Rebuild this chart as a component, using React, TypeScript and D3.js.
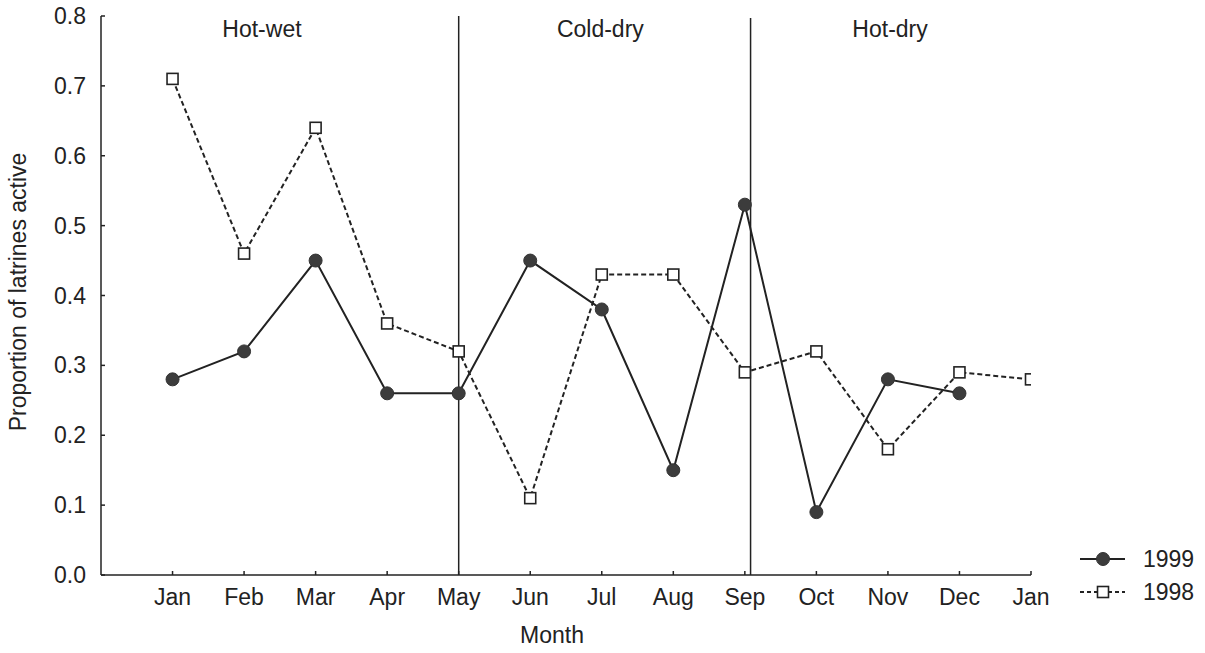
import React from "react";
import * as d3 from "d3";

const months = ["Jan", "Feb", "Mar", "Apr", "May", "Jun", "Jul", "Aug", "Sep", "Oct", "Nov", "Dec", "Jan"];
const values1999 = [0.28, 0.32, 0.45, 0.26, 0.26, 0.45, 0.38, 0.15, 0.53, 0.09, 0.28, 0.26];
const values1998 = [0.71, 0.46, 0.64, 0.36, 0.32, 0.11, 0.43, 0.43, 0.29, 0.32, 0.18, 0.29, 0.28];
const yTicks = [0, 0.1, 0.2, 0.3, 0.4, 0.5, 0.6, 0.7, 0.8];
const seasonNames = ["Hot-wet", "Cold-dry", "Hot-dry"];
const seasonLabelPos = [1.25, 5.98, 10.03];
const seasonBoundaries = [4, 8.08];

const W = 1205;
const H = 653;
const FONT = "'Liberation Sans', Arial, Helvetica, sans-serif";
const INK = "#222";
const FS = 23;

export default function App() {
  const x = d3.scaleLinear().domain([-1, 12]).range([101, 1031]);
  const y = d3.scaleLinear().domain([0, 0.8]).range([575, 16]);

  const line = d3
    .line<number>()
    .x((_, i) => x(i))
    .y((d) => y(d));

  const sq = 11;

  return (
    <svg
      width={W}
      height={H}
      style={{ position: "absolute", left: 0, top: 0, background: "#fff" }}
      fontFamily={FONT}
    >
      <defs>
        <clipPath id="plotclip">
          <rect x={0} y={0} width={1031} height={H} />
        </clipPath>
      </defs>

      {/* axes */}
      <line x1={x(-1)} x2={x(-1)} y1={y(0.8)} y2={y(0)} stroke={INK} strokeWidth={1.5} />
      <line x1={x(-1)} x2={x(12)} y1={y(0)} y2={y(0)} stroke={INK} strokeWidth={1.5} />
      {yTicks.map((t) => (
        <g key={"yt" + t}>
          <line x1={x(-1)} x2={x(-1) + 4} y1={y(t)} y2={y(t)} stroke={INK} strokeWidth={1.5} />
          <text x={86} y={y(t) + 8} fontSize={FS} textAnchor="end" fill={INK}>
            {t.toFixed(1)}
          </text>
        </g>
      ))}
      {months.map((m, i) => (
        <g key={"xt" + i}>
          <line x1={x(i)} x2={x(i)} y1={y(0)} y2={y(0) - 4} stroke={INK} strokeWidth={1.5} />
          <text x={x(i)} y={605} fontSize={FS} textAnchor="middle" fill={INK}>
            {m}
          </text>
        </g>
      ))}
      <text x={552} y={643} fontSize={FS} textAnchor="middle" fill={INK}>
        Month
      </text>
      <text
        transform={`translate(26,292) rotate(-90)`}
        fontSize={FS}
        textAnchor="middle"
        fill={INK}
      >
        Proportion of latrines active
      </text>

      {/* season boundaries */}
      {seasonBoundaries.map((b, i) => (
        <line
          key={"sb" + i}
          x1={x(b)}
          x2={x(b)}
          y1={y(0.8) + i * 2}
          y2={y(0)}
          stroke={INK}
          strokeWidth={1.5}
        />
      ))}
      {seasonNames.map((s, i) => (
        <text key={s} x={x(seasonLabelPos[i])} y={37} fontSize={FS} textAnchor="middle" fill={INK}>
          {s}
        </text>
      ))}

      {/* 1998 dashed series */}
      <g clipPath="url(#plotclip)">
        <path
          d={line(values1998) || ""}
          fill="none"
          stroke={INK}
          strokeWidth={2}
          strokeDasharray="5,3"
        />
        {values1998.map((v, i) => (
          <rect
            key={"s" + i}
            x={x(i) - sq / 2}
            y={y(v) - sq / 2}
            width={sq}
            height={sq}
            fill="#fff"
            stroke={INK}
            strokeWidth={1.6}
          />
        ))}
      </g>

      {/* 1999 solid series */}
      <path d={line(values1999) || ""} fill="none" stroke={INK} strokeWidth={2} />
      {values1999.map((v, i) => (
        <circle key={"c" + i} cx={x(i)} cy={y(v)} r={6.5} fill="#3c3c3c" stroke="#333" strokeWidth={1} />
      ))}

      {/* legend */}
      <line x1={1080} x2={1125} y1={559} y2={559} stroke={INK} strokeWidth={2} />
      <circle cx={1103} cy={559} r={6.5} fill="#3c3c3c" stroke="#333" strokeWidth={1} />
      <text x={1143} y={567} fontSize={FS} fill={INK}>
        1999
      </text>
      <line x1={1080} x2={1125} y1={592} y2={592} stroke={INK} strokeWidth={2} strokeDasharray="4,3" />
      <rect x={1103 - sq / 2} y={592 - sq / 2} width={sq} height={sq} fill="#fff" stroke={INK} strokeWidth={1.6} />
      <text x={1143} y={600} fontSize={FS} fill={INK}>
        1998
      </text>
    </svg>
  );
}
